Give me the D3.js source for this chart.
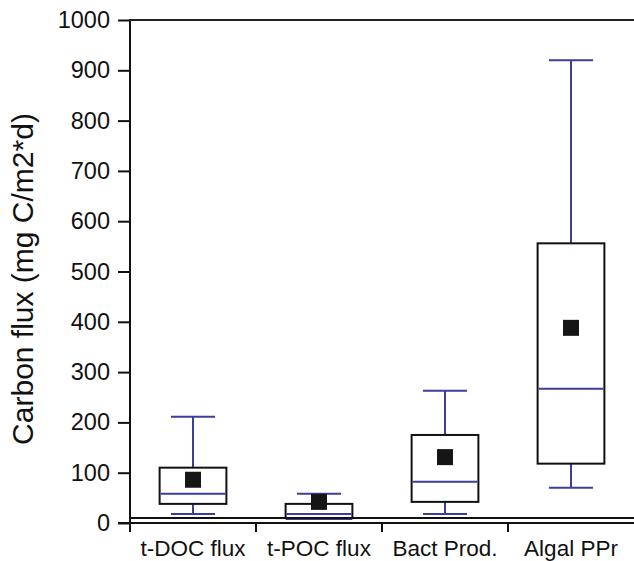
<!DOCTYPE html>
<html lang="en">
<head>
    <meta charset="UTF-8">
    <title>Carbon flux</title>
    <script src="https://cdn.jsdelivr.net/npm/d3@7"></script>
    <style>
        body { margin: 0; background: #fff; }
        text { font-family: "Liberation Sans", Arial, sans-serif; }
    </style>
</head>
<body>
<div id="my_dataviz"></div>
<script>

    // data
    const categories = ["t-DOC flux", "t-POC flux", "Bact Prod.", "Algal PPr"];
    const whiskerLow = [18, 8, 18, 70];
    const boxLow = [38, 10, 42, 118];
    const medians = [58, 18, 82, 267];
    const boxHigh = [110, 38, 175, 556];
    const whiskerHigh = [211, 58, 263, 920];
    const means = [86, 42, 131, 388];
    const yTicks = [0, 100, 200, 300, 400, 500, 600, 700, 800, 900, 1000];

    const W = 634, H = 561;
    const plot = {left: 130, right: 634, top: 20, bottom: 523};
    const blue = "#3d3d9c";

    const svg = d3.select("#my_dataviz")
        .append("svg")
        .attr("width", W)
        .attr("height", H);

    const x = d3.scaleBand()
        .domain(categories)
        .range([plot.left, plot.right])
        .padding(0);

    const y = d3.scaleLinear()
        .domain([0, 1000])
        .range([plot.bottom, plot.top]);

    // y axis
    const yAxis = d3.axisLeft(y)
        .tickValues(yTicks)
        .tickFormat(d3.format("d"))
        .tickSize(12)
        .tickPadding(8);
    const gy = svg.append("g")
        .attr("transform", "translate(" + plot.left + ",0)")
        .call(yAxis);
    gy.select(".domain").remove();
    gy.selectAll(".tick line").attr("stroke", "#111").attr("stroke-width", 2);
    gy.selectAll(".tick text")
        .attr("font-size", 23.5)
        .attr("fill", "#111");
    gy.append("line")
        .attr("x1", 0).attr("x2", 0)
        .attr("y1", y(1000)).attr("y2", plot.bottom)
        .attr("stroke", "#111").attr("stroke-width", 2);

    // top frame line
    svg.append("line")
        .attr("x1", plot.left - 1).attr("x2", plot.right)
        .attr("y1", y(1000)).attr("y2", y(1000))
        .attr("stroke", "#222").attr("stroke-width", 2);

    // inner baseline just above zero
    svg.append("line")
        .attr("x1", plot.left).attr("x2", plot.right)
        .attr("y1", y(0) - 5).attr("y2", y(0) - 5)
        .attr("stroke", "#111").attr("stroke-width", 2);

    // x axis
    const xAxis = d3.axisBottom(x)
        .tickSize(0)
        .tickPadding(17);
    const gx = svg.append("g")
        .attr("transform", "translate(0," + plot.bottom + ")")
        .call(xAxis);
    gx.select(".domain").remove();
    gx.selectAll(".tick text")
        .attr("font-size", 22.5)
        .attr("fill", "#111");
    gx.append("line")
        .attr("x1", plot.left - 12).attr("x2", plot.right)
        .attr("y1", 0).attr("y2", 0)
        .attr("stroke", "#111").attr("stroke-width", 2);
    gx.selectAll(".sep")
        .data(categories)
        .enter()
        .append("line")
        .attr("class", "sep")
        .attr("x1", d => x(d)).attr("x2", d => x(d))
        .attr("y1", 0).attr("y2", 9)
        .attr("stroke", "#111").attr("stroke-width", 2);

    // y label
    svg.append("text")
        .attr("transform", "translate(33,279) rotate(-90)")
        .attr("text-anchor", "middle")
        .attr("font-size", 30)
        .attr("fill", "#111")
        .text("Carbon flux (mg C/m2*d)");

    // box plots
    const boxW = x.bandwidth() * 0.53;
    const capW = x.bandwidth() * 0.35;
    const meanS = 16;

    const g = svg.selectAll(".box")
        .data(categories)
        .enter()
        .append("g")
        .attr("class", "box")
        .attr("transform", d => "translate(" + (x(d) + x.bandwidth() / 2) + ",0)");

    // whisker stems
    g.append("line")
        .attr("x1", 0).attr("x2", 0)
        .attr("y1", (d, i) => y(whiskerHigh[i]))
        .attr("y2", (d, i) => y(boxHigh[i]))
        .attr("stroke", blue).attr("stroke-width", 2);
    g.append("line")
        .attr("x1", 0).attr("x2", 0)
        .attr("y1", (d, i) => y(boxLow[i]))
        .attr("y2", (d, i) => y(whiskerLow[i]))
        .attr("stroke", blue).attr("stroke-width", 2);

    // caps
    g.append("line")
        .attr("x1", -capW / 2).attr("x2", capW / 2)
        .attr("y1", (d, i) => y(whiskerHigh[i]))
        .attr("y2", (d, i) => y(whiskerHigh[i]))
        .attr("stroke", blue).attr("stroke-width", 2);
    g.append("line")
        .attr("x1", (d, i) => i == 1 ? -boxW / 2 : -capW / 2)
        .attr("x2", (d, i) => i == 1 ? boxW / 2 : capW / 2)
        .attr("y1", (d, i) => y(whiskerLow[i]))
        .attr("y2", (d, i) => y(whiskerLow[i]))
        .attr("stroke", blue).attr("stroke-width", 2);

    // boxes
    g.append("rect")
        .attr("x", -boxW / 2)
        .attr("width", boxW)
        .attr("y", (d, i) => y(boxHigh[i]))
        .attr("height", (d, i) => y(boxLow[i]) - y(boxHigh[i]))
        .attr("fill", "none")
        .attr("stroke", "#111")
        .attr("stroke-width", 2);

    // medians
    g.append("line")
        .attr("x1", -boxW / 2 + 1).attr("x2", boxW / 2 - 1)
        .attr("y1", (d, i) => y(medians[i]))
        .attr("y2", (d, i) => y(medians[i]))
        .attr("stroke", blue).attr("stroke-width", 2);

    // means
    g.append("rect")
        .attr("x", -meanS / 2)
        .attr("y", (d, i) => y(means[i]) - meanS / 2)
        .attr("width", meanS)
        .attr("height", meanS)
        .attr("fill", "#151515");

</script>

</body>
</html>
